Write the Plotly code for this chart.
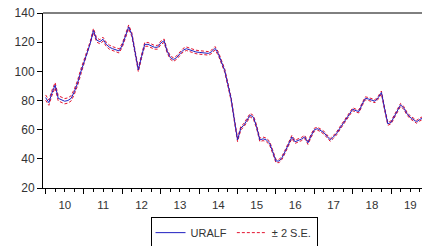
import pandas as pd
import plotly.graph_objects as go

# Monthly forecast values, starting Jan 2010
uralf = [82, 78.5, 85, 90.5, 81.5, 80.5, 79.5, 80, 81.5, 86, 92, 99.5,
         106.5, 112.5, 119, 128, 121.5, 120.3, 122, 118.5, 116.5, 115.5, 114.5, 114,
         118, 124, 130.5, 125, 114, 101, 110, 118.5, 118.5, 117.5, 116.5, 116.5,
         119.5, 121, 114, 109.5, 108, 109.5, 112.3, 114.5, 115.5, 114.7, 114, 113.3,
         113, 112.6, 112.3, 112.3, 113.5, 115.8, 112.3, 106.5, 100.5, 91, 81, 67,
         53, 61, 63, 66.5, 70, 68.5, 62, 53, 53.7, 53, 50.9, 45,
         38.5, 38.5, 41, 45.5, 50.5, 55, 51.7, 52.5, 53.6, 55, 51, 55.8,
         60, 60.7, 59.5, 58, 55.5, 53, 55, 57.5, 61, 64.2, 67, 70,
         74, 73, 72.5, 77.5, 81.5, 81, 80.3, 79.5, 82, 85.5, 74, 64,
         65, 69, 73, 77, 75, 71, 68.5, 67, 65.4, 67, 68]
# Half-width of the +/- 2 S.E. band by year
band_years = [2010, 2011, 2012, 2013, 2014, 2015, 2016, 2017, 2018, 2019]
band_half = [1.8, 1.4, 1.3, 1.2, 1.2, 1.2, 1.1, 1.0, 1.0, 1.0]

dates = pd.date_range("2010-01-01", periods=len(uralf), freq="MS")
hw = dict(zip(band_years, band_half))
upper = [v + hw[d.year] for v, d in zip(uralf, dates)]
lower = [v - hw[d.year] for v, d in zip(uralf, dates)]

blue = "#1f1fc0"
red = "#e3132f"
font = dict(family="Liberation Sans, Arial, sans-serif", size=11, color="#333333")

fig = go.Figure()
fig.add_trace(go.Scatter(x=dates, y=upper, mode="lines", name="± 2 S.E.",
                         legendgroup="se", legendrank=2,
                         line=dict(color=red, width=1, dash="3px,2px")))
fig.add_trace(go.Scatter(x=dates, y=lower, mode="lines", name="± 2 S.E.",
                         legendgroup="se", showlegend=False,
                         line=dict(color=red, width=1, dash="3px,2px")))
fig.add_trace(go.Scatter(x=dates, y=uralf, mode="lines", name="URALF", legendrank=1,
                         line=dict(color=blue, width=1)))

fig.update_layout(
    width=422, height=246,
    margin=dict(l=43, r=0, t=13, b=58, autoexpand=False),
    paper_bgcolor="white", plot_bgcolor="white",
    font=font,
    showlegend=True,
    legend=dict(orientation="h", x=0.504, xanchor="center", y=-0.255, yanchor="middle",
                bordercolor="black", borderwidth=1, bgcolor="white",
                font=font, itemwidth=30, tracegroupgap=0),
)
fig.update_xaxes(
    type="date", automargin=False,
    range=["2009-12-07", "2019-10-22"],
    showgrid=False, zeroline=False,
    showline=True, linecolor="black", linewidth=1,
    ticks="outside", ticklen=5, tickcolor="black",
    tick0="2010-01-01", dtick="M12", tickformat="%y",
    ticklabelmode="period", ticklabelstandoff=1,
    minor=dict(ticks="outside", ticklen=3, tickcolor="black", dtick="M3",
               tick0="2010-01-01", showgrid=False),
    tickfont=dict(family=font["family"], size=11.5, color="#333333"),
)
fig.update_yaxes(
    automargin=False,
    range=[20, 140], tick0=20, dtick=20,
    showgrid=False, zeroline=False,
    showline=True, linecolor="black", linewidth=1,
    ticks="outside", ticklen=5, tickcolor="black",
    tickfont=dict(family=font["family"], size=12, color="#333333"),
)
fig.add_shape(type="line", xref="paper", yref="paper", x0=0, x1=1, y0=1, y1=1,
              line=dict(color="black", width=1))

# remove the default page margin so the figure fills the window exactly
fig.write_html("out.html", config={"displayModeBar": False},
               post_script="document.body.style.margin='0';")
